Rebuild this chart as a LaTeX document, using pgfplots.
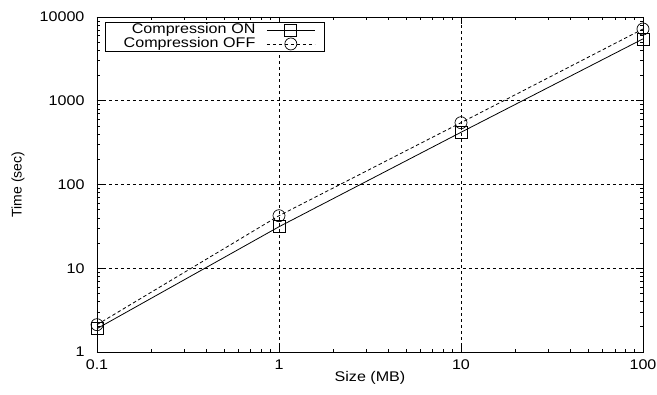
\documentclass[border=0pt]{standalone}
\usepackage{fontspec}
\setmainfont{Liberation Sans}[FakeStretch=1.15]
\newfontfamily\plainsans{Liberation Sans}
\usepackage{pgfplots}
\pgfplotsset{compat=1.18}
\begin{document}
\begin{tikzpicture}
\useasboundingbox (-97pt,-43pt) rectangle (560pt,352pt);
\begin{axis}[
  at={(0pt,0pt)}, anchor=south west,
  scale only axis, width=546pt, height=335pt,
  xmode=log, ymode=log,
  xmin=0.1, xmax=100, ymin=1, ymax=10000,
  xtick={0.1,1,10,100}, xticklabels={0.1,1,10,100},
  ytick={1,10,100,1000,10000}, yticklabels={1,10,100,1000,10000},
  minor xtick={0.2,0.3,0.4,0.5,0.6,0.7,0.8,0.9,2,3,4,5,6,7,8,9,20,30,40,50,60,70,80,90},
  minor ytick={2,3,4,5,6,7,8,9,20,30,40,50,60,70,80,90,200,300,400,500,600,700,800,900,2000,3000,4000,5000,6000,7000,8000,9000},
  tick align=inside,
  major tick length=7pt, minor tick length=3.5pt,
  every tick/.style={black, line width=0.6pt},
  axis line style={black, line width=0.9pt},
  grid=major,
  major grid style={black, line width=0.6pt, dash pattern=on 3pt off 3pt},
  tick label style={font=\fontsize{14}{16}\selectfont, black},
  xticklabel style={yshift=-4pt},
  yticklabel style={xshift=-9pt},
  xlabel style={font=\fontsize{14}{16}\selectfont, at={(axis description cs:0.5,-0.0776)}, anchor=center},
  ylabel style={font=\plainsans\fontsize{14}{16}\selectfont, at={(axis description cs:-0.1447,0.5)}, anchor=center},
  xlabel={Size (MB)}, ylabel={Time (sec)},
  legend plot pos=right,
  legend cell align=right,
  legend style={at={(axis description cs:0.01465,0.985)}, anchor=north west,
    draw=black, line width=0.9pt, inner xsep=0pt, inner ysep=1pt, row sep=1pt,
    font=\fontsize{14}{15}\selectfont, fill=white,
    nodes={inner xsep=0pt, inner ysep=0pt, text width=150pt, align=right, text height=10pt, text depth=3pt},
    /tikz/every odd column/.append style={column sep=11pt}},
]
\addplot[black, line width=0.8pt, mark=square, mark size=6pt, mark options={solid, line width=0.7pt},
  legend image code/.code={\draw[mark repeat=2,mark phase=2] plot coordinates {(0pt,0pt) (24pt,0pt) (48pt,0pt)}; \path (57pt,0pt);}]
  coordinates {(0.1,1.9) (1,31.3) (10,420) (100,5480)};
\addlegendentry{Compression ON}
\addplot[black, line width=0.8pt, dash pattern=on 3.5pt off 2.5pt, mark=o, mark size=6pt, mark options={solid, line width=0.7pt},
  legend image code/.code={\draw[mark repeat=2,mark phase=2] plot coordinates {(0pt,0pt) (24pt,0pt) (48pt,0pt)}; \path (57pt,0pt);}]
  coordinates {(0.1,2.12) (1,42.4) (10,547) (100,7190)};
\addlegendentry{Compression OFF}
\end{axis}
\end{tikzpicture}
\end{document}
